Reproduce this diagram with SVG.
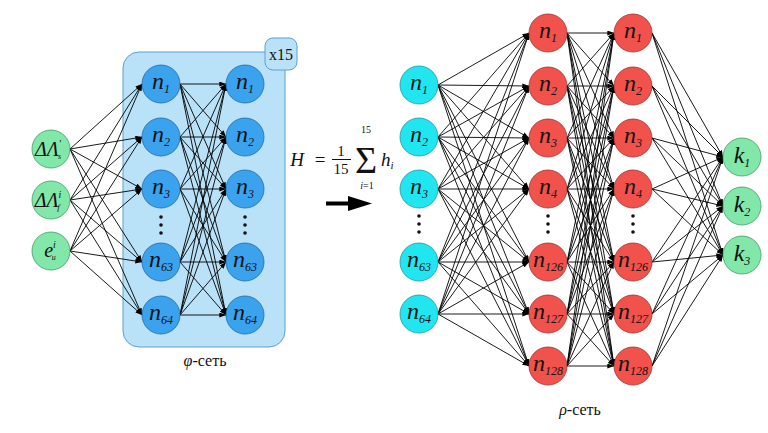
<svg xmlns="http://www.w3.org/2000/svg" width="768" height="433" viewBox="0 0 768 433">
<defs>
<marker id="ah" viewBox="0 0 8 6" refX="8" refY="3" markerWidth="7" markerHeight="5" markerUnits="userSpaceOnUse" orient="auto"><path d="M0,0 L8,3 L0,6 Z" fill="#000"/></marker>
<style>
.e line{stroke:#000;stroke-width:0.9;marker-end:url(#ah)}
.g{fill:#82E8AA;stroke:#3f9a66;stroke-width:0.8}
.b{fill:#3BA3EE;stroke:#1f6aa8;stroke-width:0.8}
.c{fill:#22E6EF;stroke:#1c97a8;stroke-width:0.8}
.r{fill:#F2524C;stroke:#9c3030;stroke-width:0.8}
.t{font-family:"Liberation Serif","DejaVu Serif",serif;font-style:italic;font-size:24px;fill:#111;text-anchor:middle}
.s{font-size:12px}
.d{fill:#111}
.lbl{font-family:"Liberation Serif","DejaVu Serif",serif;font-size:16px;fill:#111;text-anchor:middle}
</style>
</defs>
<rect width="768" height="433" fill="#fff"/>
<g id="phi-box">
<rect x="123" y="52" width="162" height="295" rx="16" fill="#B9E1F7" stroke="#5DA0CF" stroke-width="1"/>
<rect x="265" y="38" width="32" height="32" rx="8" fill="#B9E1F7" stroke="#5DA0CF" stroke-width="1"/>
<text x="281" y="60" class="lbl" style="font-size:16px">x15</text>
</g>
<g class="e" id="connectors">
<line x1="70" y1="149" x2="142" y2="84"/><line x1="70" y1="149" x2="142" y2="137"/><line x1="70" y1="149" x2="142" y2="189"/><line x1="70" y1="149" x2="142" y2="262"/><line x1="70" y1="149" x2="142" y2="315"/>
<line x1="70" y1="200" x2="142" y2="84"/><line x1="70" y1="200" x2="142" y2="137"/><line x1="70" y1="200" x2="142" y2="189"/><line x1="70" y1="200" x2="142" y2="262"/><line x1="70" y1="200" x2="142" y2="315"/>
<line x1="70" y1="251" x2="142" y2="84"/><line x1="70" y1="251" x2="142" y2="137"/><line x1="70" y1="251" x2="142" y2="189"/><line x1="70" y1="251" x2="142" y2="262"/><line x1="70" y1="251" x2="142" y2="315"/>
<line x1="180" y1="84" x2="226" y2="84"/><line x1="180" y1="84" x2="226" y2="137"/><line x1="180" y1="84" x2="226" y2="189"/><line x1="180" y1="84" x2="226" y2="262"/><line x1="180" y1="84" x2="226" y2="315"/>
<line x1="180" y1="137" x2="226" y2="84"/><line x1="180" y1="137" x2="226" y2="137"/><line x1="180" y1="137" x2="226" y2="189"/><line x1="180" y1="137" x2="226" y2="262"/><line x1="180" y1="137" x2="226" y2="315"/>
<line x1="180" y1="189" x2="226" y2="84"/><line x1="180" y1="189" x2="226" y2="137"/><line x1="180" y1="189" x2="226" y2="189"/><line x1="180" y1="189" x2="226" y2="262"/><line x1="180" y1="189" x2="226" y2="315"/>
<line x1="180" y1="262" x2="226" y2="84"/><line x1="180" y1="262" x2="226" y2="137"/><line x1="180" y1="262" x2="226" y2="189"/><line x1="180" y1="262" x2="226" y2="262"/><line x1="180" y1="262" x2="226" y2="315"/>
<line x1="180" y1="315" x2="226" y2="84"/><line x1="180" y1="315" x2="226" y2="137"/><line x1="180" y1="315" x2="226" y2="189"/><line x1="180" y1="315" x2="226" y2="262"/><line x1="180" y1="315" x2="226" y2="315"/>
<line x1="438" y1="85" x2="529" y2="33"/><line x1="438" y1="85" x2="529" y2="86"/><line x1="438" y1="85" x2="529" y2="138"/><line x1="438" y1="85" x2="529" y2="189"/><line x1="438" y1="85" x2="529" y2="262"/><line x1="438" y1="85" x2="529" y2="314"/><line x1="438" y1="85" x2="529" y2="366"/>
<line x1="438" y1="137" x2="529" y2="33"/><line x1="438" y1="137" x2="529" y2="86"/><line x1="438" y1="137" x2="529" y2="138"/><line x1="438" y1="137" x2="529" y2="189"/><line x1="438" y1="137" x2="529" y2="262"/><line x1="438" y1="137" x2="529" y2="314"/><line x1="438" y1="137" x2="529" y2="366"/>
<line x1="438" y1="189" x2="529" y2="33"/><line x1="438" y1="189" x2="529" y2="86"/><line x1="438" y1="189" x2="529" y2="138"/><line x1="438" y1="189" x2="529" y2="189"/><line x1="438" y1="189" x2="529" y2="262"/><line x1="438" y1="189" x2="529" y2="314"/><line x1="438" y1="189" x2="529" y2="366"/>
<line x1="438" y1="262" x2="529" y2="33"/><line x1="438" y1="262" x2="529" y2="86"/><line x1="438" y1="262" x2="529" y2="138"/><line x1="438" y1="262" x2="529" y2="189"/><line x1="438" y1="262" x2="529" y2="262"/><line x1="438" y1="262" x2="529" y2="314"/><line x1="438" y1="262" x2="529" y2="366"/>
<line x1="438" y1="314" x2="529" y2="33"/><line x1="438" y1="314" x2="529" y2="86"/><line x1="438" y1="314" x2="529" y2="138"/><line x1="438" y1="314" x2="529" y2="189"/><line x1="438" y1="314" x2="529" y2="262"/><line x1="438" y1="314" x2="529" y2="314"/><line x1="438" y1="314" x2="529" y2="366"/>
<line x1="567" y1="33" x2="614" y2="33"/><line x1="567" y1="33" x2="614" y2="86"/><line x1="567" y1="33" x2="614" y2="138"/><line x1="567" y1="33" x2="614" y2="189"/><line x1="567" y1="33" x2="614" y2="262"/><line x1="567" y1="33" x2="614" y2="314"/><line x1="567" y1="33" x2="614" y2="366"/>
<line x1="567" y1="86" x2="614" y2="33"/><line x1="567" y1="86" x2="614" y2="86"/><line x1="567" y1="86" x2="614" y2="138"/><line x1="567" y1="86" x2="614" y2="189"/><line x1="567" y1="86" x2="614" y2="262"/><line x1="567" y1="86" x2="614" y2="314"/><line x1="567" y1="86" x2="614" y2="366"/>
<line x1="567" y1="138" x2="614" y2="33"/><line x1="567" y1="138" x2="614" y2="86"/><line x1="567" y1="138" x2="614" y2="138"/><line x1="567" y1="138" x2="614" y2="189"/><line x1="567" y1="138" x2="614" y2="262"/><line x1="567" y1="138" x2="614" y2="314"/><line x1="567" y1="138" x2="614" y2="366"/>
<line x1="567" y1="189" x2="614" y2="33"/><line x1="567" y1="189" x2="614" y2="86"/><line x1="567" y1="189" x2="614" y2="138"/><line x1="567" y1="189" x2="614" y2="189"/><line x1="567" y1="189" x2="614" y2="262"/><line x1="567" y1="189" x2="614" y2="314"/><line x1="567" y1="189" x2="614" y2="366"/>
<line x1="567" y1="262" x2="614" y2="33"/><line x1="567" y1="262" x2="614" y2="86"/><line x1="567" y1="262" x2="614" y2="138"/><line x1="567" y1="262" x2="614" y2="189"/><line x1="567" y1="262" x2="614" y2="262"/><line x1="567" y1="262" x2="614" y2="314"/><line x1="567" y1="262" x2="614" y2="366"/>
<line x1="567" y1="314" x2="614" y2="33"/><line x1="567" y1="314" x2="614" y2="86"/><line x1="567" y1="314" x2="614" y2="138"/><line x1="567" y1="314" x2="614" y2="189"/><line x1="567" y1="314" x2="614" y2="262"/><line x1="567" y1="314" x2="614" y2="314"/><line x1="567" y1="314" x2="614" y2="366"/>
<line x1="567" y1="366" x2="614" y2="33"/><line x1="567" y1="366" x2="614" y2="86"/><line x1="567" y1="366" x2="614" y2="138"/><line x1="567" y1="366" x2="614" y2="189"/><line x1="567" y1="366" x2="614" y2="262"/><line x1="567" y1="366" x2="614" y2="314"/><line x1="567" y1="366" x2="614" y2="366"/>
<line x1="652" y1="33" x2="723" y2="157"/><line x1="652" y1="33" x2="723" y2="206"/><line x1="652" y1="33" x2="723" y2="255"/>
<line x1="652" y1="86" x2="723" y2="157"/><line x1="652" y1="86" x2="723" y2="206"/><line x1="652" y1="86" x2="723" y2="255"/>
<line x1="652" y1="138" x2="723" y2="157"/><line x1="652" y1="138" x2="723" y2="206"/><line x1="652" y1="138" x2="723" y2="255"/>
<line x1="652" y1="189" x2="723" y2="157"/><line x1="652" y1="189" x2="723" y2="206"/><line x1="652" y1="189" x2="723" y2="255"/>
<line x1="652" y1="262" x2="723" y2="157"/><line x1="652" y1="262" x2="723" y2="206"/><line x1="652" y1="262" x2="723" y2="255"/>
<line x1="652" y1="314" x2="723" y2="157"/><line x1="652" y1="314" x2="723" y2="206"/><line x1="652" y1="314" x2="723" y2="255"/>
<line x1="652" y1="366" x2="723" y2="157"/><line x1="652" y1="366" x2="723" y2="206"/><line x1="652" y1="366" x2="723" y2="255"/>
</g>
<g id="in-dLs"><circle cx="51" cy="149" r="19" class="g"/><text x="48" y="156" class="t" style="font-size:20px">ΔΛ<tspan dy="-9" style="font-size:10px">'</tspan><tspan dy="12" dx="-3" style="font-size:8px">s</tspan></text></g>
<g id="in-dLf"><circle cx="51" cy="200" r="19" class="g"/><text x="48" y="207" class="t" style="font-size:20px">ΔΛ<tspan dy="-9" style="font-size:10px">i</tspan><tspan dy="12" dx="-4" style="font-size:9px">f</tspan></text></g>
<g id="in-eu"><circle cx="51" cy="251" r="19" class="g"/><text x="50" y="257" class="t" style="font-size:20px">e<tspan dy="-9" style="font-size:10px">i</tspan><tspan dy="12" dx="-4" style="font-size:8px">u</tspan></text></g>
<g id="phi1-1"><circle cx="161" cy="84" r="19" class="b"/><text x="161" y="89" class="t">n<tspan class="s" dy="4">1</tspan></text></g>
<g id="phi1-2"><circle cx="161" cy="137" r="19" class="b"/><text x="161" y="142" class="t">n<tspan class="s" dy="4">2</tspan></text></g>
<g id="phi1-3"><circle cx="161" cy="189" r="19" class="b"/><text x="161" y="194" class="t">n<tspan class="s" dy="4">3</tspan></text></g>
<g id="phi1-63"><circle cx="161" cy="262" r="19" class="b"/><text x="161" y="267" class="t">n<tspan class="s" dy="4">63</tspan></text></g>
<g id="phi1-64"><circle cx="161" cy="315" r="19" class="b"/><text x="161" y="320" class="t">n<tspan class="s" dy="4">64</tspan></text></g>
<g id="phi2-1"><circle cx="245" cy="84" r="19" class="b"/><text x="245" y="89" class="t">n<tspan class="s" dy="4">1</tspan></text></g>
<g id="phi2-2"><circle cx="245" cy="137" r="19" class="b"/><text x="245" y="142" class="t">n<tspan class="s" dy="4">2</tspan></text></g>
<g id="phi2-3"><circle cx="245" cy="189" r="19" class="b"/><text x="245" y="194" class="t">n<tspan class="s" dy="4">3</tspan></text></g>
<g id="phi2-63"><circle cx="245" cy="262" r="19" class="b"/><text x="245" y="267" class="t">n<tspan class="s" dy="4">63</tspan></text></g>
<g id="phi2-64"><circle cx="245" cy="315" r="19" class="b"/><text x="245" y="320" class="t">n<tspan class="s" dy="4">64</tspan></text></g>
<g id="phi-dots" class="d"><circle cx="161" cy="217" r="1.8"/><circle cx="161" cy="225" r="1.8"/><circle cx="161" cy="233" r="1.8"/><circle cx="245" cy="217" r="1.8"/><circle cx="245" cy="225" r="1.8"/><circle cx="245" cy="233" r="1.8"/></g>
<text id="phi-label" x="205" y="366" class="lbl"><tspan font-style="italic">φ</tspan>-сеть</text>
<g id="formula" font-family="Liberation Serif, DejaVu Serif, serif" fill="#111">
<text x="297" y="166" font-size="19" font-style="italic" text-anchor="middle">H</text>
<text x="320" y="166" font-size="19" text-anchor="middle">=</text>
<text x="341" y="156" font-size="15" text-anchor="middle">1</text>
<line x1="332" y1="159.5" x2="351" y2="159.5" stroke="#111" stroke-width="1"/>
<text x="341" y="174" font-size="15" text-anchor="middle">15</text>
<text x="366" y="173" font-size="38" text-anchor="middle">Σ</text>
<text x="366" y="133" font-size="10" text-anchor="middle">15</text>
<text x="367" y="189" font-size="10" text-anchor="middle"><tspan font-style="italic">i</tspan>=1</text>
<text x="381" y="166" font-size="19" font-style="italic">h<tspan font-size="11" dy="3">i</tspan></text>
</g>
<path id="arrow" d="M326,201.5 H348 V196 L372,203.5 L348,211 V205.5 H326 Z" fill="#000"/>
<g id="rho-in-1"><circle cx="419" cy="85" r="19" class="c"/><text x="419" y="90" class="t">n<tspan class="s" dy="4">1</tspan></text></g>
<g id="rho-in-2"><circle cx="419" cy="137" r="19" class="c"/><text x="419" y="142" class="t">n<tspan class="s" dy="4">2</tspan></text></g>
<g id="rho-in-3"><circle cx="419" cy="189" r="19" class="c"/><text x="419" y="194" class="t">n<tspan class="s" dy="4">3</tspan></text></g>
<g id="rho-in-63"><circle cx="419" cy="262" r="19" class="c"/><text x="419" y="267" class="t">n<tspan class="s" dy="4">63</tspan></text></g>
<g id="rho-in-64"><circle cx="419" cy="314" r="19" class="c"/><text x="419" y="319" class="t">n<tspan class="s" dy="4">64</tspan></text></g>
<g id="rho1-1"><circle cx="548" cy="33" r="19" class="r"/><text x="548" y="38" class="t">n<tspan class="s" dy="4">1</tspan></text></g>
<g id="rho1-2"><circle cx="548" cy="86" r="19" class="r"/><text x="548" y="91" class="t">n<tspan class="s" dy="4">2</tspan></text></g>
<g id="rho1-3"><circle cx="548" cy="138" r="19" class="r"/><text x="548" y="143" class="t">n<tspan class="s" dy="4">3</tspan></text></g>
<g id="rho1-4"><circle cx="548" cy="189" r="19" class="r"/><text x="548" y="194" class="t">n<tspan class="s" dy="4">4</tspan></text></g>
<g id="rho1-126"><circle cx="548" cy="262" r="19" class="r"/><text x="548" y="267" class="t">n<tspan class="s" dy="4">126</tspan></text></g>
<g id="rho1-127"><circle cx="548" cy="314" r="19" class="r"/><text x="548" y="319" class="t">n<tspan class="s" dy="4">127</tspan></text></g>
<g id="rho1-128"><circle cx="548" cy="366" r="19" class="r"/><text x="548" y="371" class="t">n<tspan class="s" dy="4">128</tspan></text></g>
<g id="rho2-1"><circle cx="633" cy="33" r="19" class="r"/><text x="633" y="38" class="t">n<tspan class="s" dy="4">1</tspan></text></g>
<g id="rho2-2"><circle cx="633" cy="86" r="19" class="r"/><text x="633" y="91" class="t">n<tspan class="s" dy="4">2</tspan></text></g>
<g id="rho2-3"><circle cx="633" cy="138" r="19" class="r"/><text x="633" y="143" class="t">n<tspan class="s" dy="4">3</tspan></text></g>
<g id="rho2-4"><circle cx="633" cy="189" r="19" class="r"/><text x="633" y="194" class="t">n<tspan class="s" dy="4">4</tspan></text></g>
<g id="rho2-126"><circle cx="633" cy="262" r="19" class="r"/><text x="633" y="267" class="t">n<tspan class="s" dy="4">126</tspan></text></g>
<g id="rho2-127"><circle cx="633" cy="314" r="19" class="r"/><text x="633" y="319" class="t">n<tspan class="s" dy="4">127</tspan></text></g>
<g id="rho2-128"><circle cx="633" cy="366" r="19" class="r"/><text x="633" y="371" class="t">n<tspan class="s" dy="4">128</tspan></text></g>
<g id="rho-dots" class="d"><circle cx="419" cy="216" r="1.8"/><circle cx="419" cy="224" r="1.8"/><circle cx="419" cy="232" r="1.8"/><circle cx="548" cy="216" r="1.8"/><circle cx="548" cy="224" r="1.8"/><circle cx="548" cy="232" r="1.8"/><circle cx="633" cy="216" r="1.8"/><circle cx="633" cy="224" r="1.8"/><circle cx="633" cy="232" r="1.8"/></g>
<g id="out-k1"><circle cx="742" cy="157" r="19" class="g"/><text x="742" y="163" class="t">k<tspan class="s" dy="4">1</tspan></text></g>
<g id="out-k2"><circle cx="742" cy="206" r="19" class="g"/><text x="742" y="212" class="t">k<tspan class="s" dy="4">2</tspan></text></g>
<g id="out-k3"><circle cx="742" cy="255" r="19" class="g"/><text x="742" y="261" class="t">k<tspan class="s" dy="4">3</tspan></text></g>
<text id="rho-label" x="580" y="415" class="lbl"><tspan font-style="italic">ρ</tspan>-сеть</text>
</svg>
